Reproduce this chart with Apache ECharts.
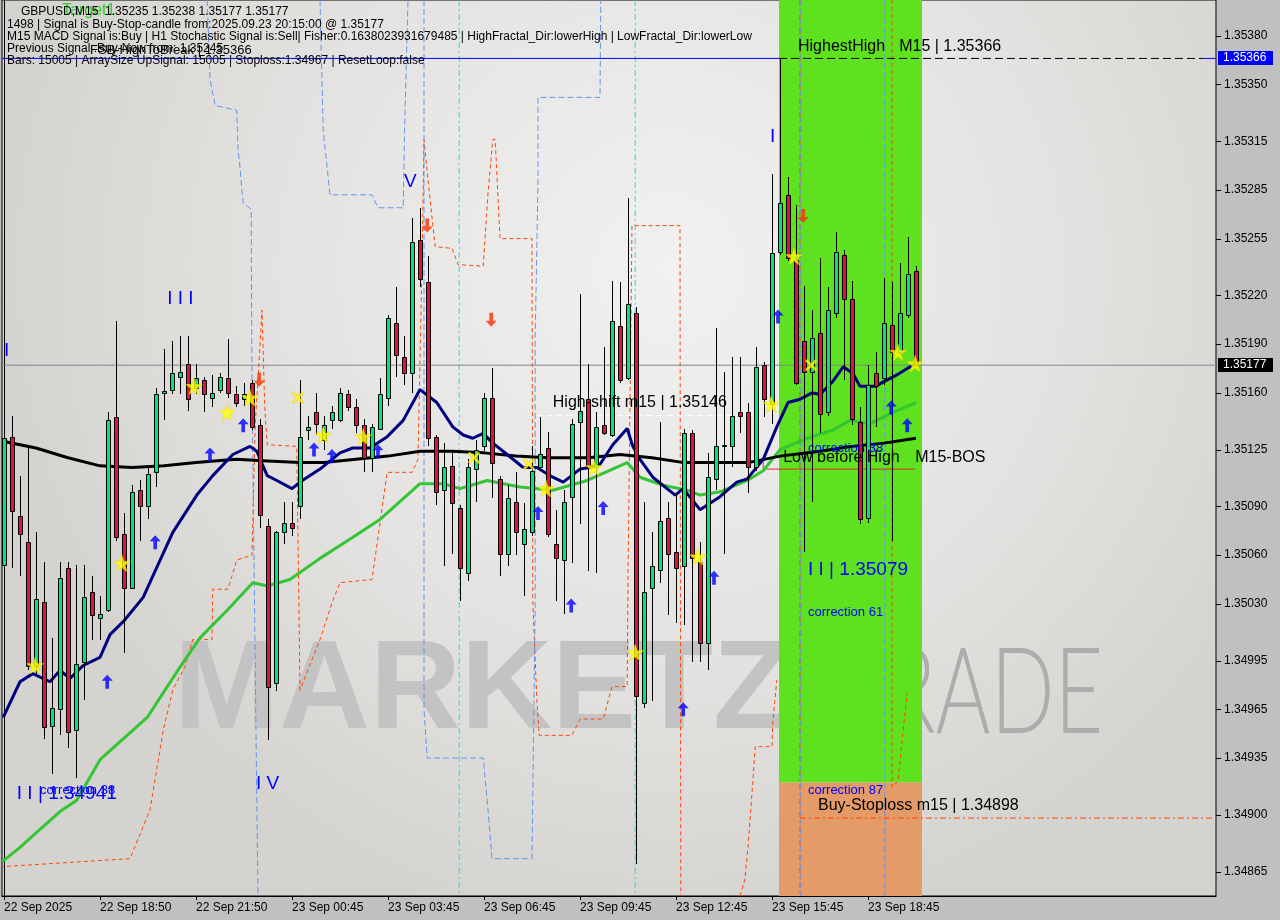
<!DOCTYPE html>
<html><head><meta charset="utf-8">
<script src="https://cdn.jsdelivr.net/npm/echarts@6/dist/echarts.min.js"></script>
<style>html,body{margin:0;padding:0;background:#c0c0c0;}#c{width:1280px;height:920px;}</style>
</head><body><div id="c"></div>
<script>
// ---------- DATA ----------
const timeLabels = ['22 Sep 2025','22 Sep 18:50','22 Sep 21:50','23 Sep 00:45','23 Sep 03:45','23 Sep 06:45','23 Sep 09:45','23 Sep 12:45','23 Sep 15:45','23 Sep 18:45'];
const timeTickIdx = [0,12,24,36,48,60,72,84,96,108];
const priceTicks = [1.35380,1.35350,1.35315,1.35285,1.35255,1.35220,1.35190,1.35160,1.35125,1.35090,1.35060,1.35030,1.34995,1.34965,1.34935,1.34900,1.34865];

const opens = [1.35054,1.35133,1.35084,1.35068,1.34992,1.35031,1.34955,1.34965,1.35052,1.34952,
1.34994,1.35037,1.35021,1.35026,1.35145,1.35073,1.35040,1.35100,1.35090,1.35111,
1.35160,1.35162,1.35170,1.35178,1.35163,1.35168,1.35157,1.35162,1.35169,1.35159,
1.35156,1.35166,1.35140,1.35078,1.34981,1.35074,1.35080,1.35090,1.35137,1.35148,
1.35131,1.35143,1.35143,1.35159,1.35151,1.35140,1.35120,1.35138,1.35157,1.35203,
1.35182,1.35172,1.35254,1.35228,1.35133,1.35100,1.35115,1.35089,1.35049,1.35113,
1.35127,1.35157,1.35107,1.35061,1.35093,1.35067,1.35074,1.35114,1.35126,1.35067,
1.35057,1.35096,1.35142,1.35156,1.35114,1.35140,1.35134,1.35201,1.35169,1.35209,
1.34969,1.35040,1.35051,1.35083,1.35062,1.35053,1.35135,1.35056,1.35006,1.35107,
1.35127,1.35127,1.35148,1.35148,1.35114,1.35177,1.35153,1.35247,1.35282,1.35242,
1.35192,1.35173,1.35197,1.35148,1.35209,1.35245,1.35218,1.35142,1.35083,1.35172,
1.35169,1.35202,1.35185,1.35208,1.35235];
const closes = [1.35132,1.35087,1.35073,1.34992,1.35033,1.34954,1.34966,1.35046,1.34951,1.34993,
1.35034,1.35023,1.35024,1.35143,1.35071,1.35040,1.35099,1.35090,1.35110,1.35159,
1.35161,1.35172,1.35173,1.35156,1.35169,1.35159,1.35160,1.35170,1.35160,1.35154,
1.35159,1.35139,1.35085,1.34979,1.35074,1.35080,1.35077,1.35133,1.35139,1.35141,
1.35140,1.35148,1.35160,1.35151,1.35140,1.35120,1.35139,1.35159,1.35206,1.35183,
1.35172,1.35253,1.35230,1.35132,1.35099,1.35114,1.35092,1.35052,1.35114,1.35125,
1.35157,1.35117,1.35061,1.35095,1.35074,1.35076,1.35112,1.35122,1.35073,1.35058,
1.35093,1.35141,1.35149,1.35114,1.35139,1.35135,1.35204,1.35168,1.35215,1.34973,
1.35037,1.35053,1.35081,1.35061,1.35052,1.35135,1.35058,1.35006,1.35108,1.35127,
1.35128,1.35146,1.35146,1.35114,1.35176,1.35156,1.35246,1.35277,1.35243,1.35166,
1.35173,1.35194,1.35147,1.35211,1.35247,1.35218,1.35144,1.35082,1.35165,1.35164,
1.35203,1.35185,1.35209,1.35233,1.35177];
const lows = [1.35051,1.35052,1.35047,1.34989,1.34987,1.34947,1.34925,1.34949,1.34941,1.34923,
1.34971,1.35008,1.35008,1.35025,1.35069,1.35000,1.35039,1.35069,1.35082,1.35102,
1.35143,1.35159,1.35159,1.35149,1.35159,1.35148,1.35151,1.35160,1.35157,1.35151,
1.35152,1.35137,1.35077,1.34946,1.34976,1.35067,1.35072,1.35082,1.35131,1.35134,
1.35125,1.35138,1.35142,1.35149,1.35135,1.35111,1.35111,1.35137,1.35152,1.35170,
1.35165,1.35160,1.35225,1.35127,1.35091,1.35053,1.35061,1.35032,1.35044,1.35093,
1.35124,1.35095,1.35047,1.35053,1.35060,1.35035,1.35072,1.35113,1.35071,1.35032,
1.35024,1.35055,1.35079,1.35050,1.35049,1.35134,1.35133,1.35166,1.35168,1.34870,
1.34966,1.34970,1.35043,1.35023,1.35018,1.35017,1.34994,1.34994,1.34989,1.35100,
1.35061,1.35114,1.35135,1.35098,1.35112,1.35145,1.35141,1.35245,1.35241,1.35165,
1.35062,1.35093,1.35135,1.35146,1.35206,1.35168,1.35140,1.35079,1.35080,1.35139,
1.35165,1.35069,1.35183,1.35206,1.35177];
const highs = [1.35146,1.35146,1.35109,1.35126,1.35074,1.35056,1.35009,1.35056,1.35056,1.35054,
1.35054,1.35047,1.35035,1.35148,1.35204,1.35086,1.35103,1.35106,1.35114,1.35163,
1.35187,1.35192,1.35195,1.35195,1.35178,1.35170,1.35171,1.35172,1.35193,1.35164,
1.35166,1.35168,1.35144,1.35082,1.35075,1.35093,1.35093,1.35168,1.35146,1.35160,
1.35146,1.35152,1.35163,1.35162,1.35156,1.35144,1.35141,1.35169,1.35208,1.35225,
1.35195,1.35268,1.35274,1.35244,1.35134,1.35129,1.35123,1.35091,1.35119,1.35131,
1.35160,1.35175,1.35109,1.35103,1.35111,1.35092,1.35127,1.35145,1.35136,1.35088,
1.35100,1.35144,1.35221,1.35178,1.35148,1.35188,1.35229,1.35228,1.35280,1.35213,
1.35093,1.35074,1.35142,1.35093,1.35098,1.35138,1.35137,1.35068,1.35123,1.35200,
1.35173,1.35182,1.35182,1.35154,1.35188,1.35179,1.35295,1.35366,1.35293,1.35276,
1.35226,1.35211,1.35243,1.35225,1.35259,1.35248,1.35229,1.35151,1.35177,1.35185,
1.35231,1.35228,1.35240,1.35256,1.35238];

// moving averages [barIndex, price]
const maSlowBlack = [[0,1.35130],[4,1.35126],[8,1.35120],[12,1.35115],[16,1.35114],[20,1.35115],[24,1.35117],[29,1.35119],[33,1.35118],[37,1.35117],[40,1.35117],[44,1.35119],[48,1.35121],[52,1.35124],[56,1.35124],[60,1.35123],[64,1.35121],[68,1.35120],[73,1.35120],[77,1.35122],[81,1.35120],[85,1.35117],[89,1.35117],[93,1.35117],[97,1.35121],[102,1.35124],[106,1.35127],[110,1.35129],[114,1.35132]];
const maFastNavy = [[-0.1,1.34960],[2,1.34982],[3.6,1.34987],[5.75,1.34982],[7,1.34989],[8.25,1.34984],[9.9,1.34992],[12,1.34997],[13.25,1.35011],[14.9,1.35019],[17.4,1.35034],[18.6,1.35047],[21.1,1.35074],[24.1,1.35097],[26.1,1.35109],[28.6,1.35122],[30.75,1.35127],[31.6,1.35124],[32.9,1.35109],[34.1,1.35106],[36,1.35101],[37,1.35105],[39.5,1.35113],[42,1.35123],[43.6,1.35126],[45.75,1.35126],[47.9,1.35133],[49.9,1.35143],[52,1.35162],[54.1,1.35154],[56.1,1.35139],[57.4,1.35134],[58.6,1.35132],[59.9,1.35135],[61.1,1.35129],[62.9,1.35122],[64.9,1.35114],[66.6,1.35114],[68.6,1.35108],[69.9,1.35105],[72,1.35113],[73.25,1.35114],[74.5,1.35116],[76.1,1.35128],[77.9,1.35138],[78.6,1.35127],[79.5,1.35119],[81.1,1.35108],[83.9,1.35097],[84.9,1.35101],[87,1.35088],[89.5,1.35096],[91.6,1.35105],[92.9,1.35107],[94.9,1.35119],[96.6,1.35139],[98,1.35154],[99.5,1.35156],[101,1.35160],[102,1.35159],[103.6,1.35167],[104.9,1.35176],[106.1,1.35172],[107,1.35164],[108.9,1.35164],[110.4,1.35168],[111.6,1.35171],[112.9,1.35175],[114,1.35178]];
const maMidGreen = [[-0.25,1.34871],[2,1.34880],[4.5,1.34891],[7,1.34902],[9.1,1.34909],[12,1.34934],[17.9,1.34960],[22,1.34991],[24.5,1.35009],[27.9,1.35026],[31.1,1.35043],[32.9,1.35041],[35.75,1.35045],[39.5,1.35058],[43.6,1.35071],[47,1.35082],[52,1.35104],[54.9,1.35104],[57,1.35101],[60.4,1.35106],[64.5,1.35102],[68.6,1.35100],[72.9,1.35106],[77.9,1.35117],[79.5,1.35108],[82.4,1.35103],[85.4,1.35100],[87,1.35097],[89.5,1.35099],[92.9,1.35106],[94.9,1.35112],[97,1.35125],[100.4,1.35132],[103.6,1.35137],[105.75,1.35143],[108.25,1.35141],[111.1,1.35148],[114,1.35154]];

// trailing stop / channel step lines [barIndex, price]
const stopLineA = [[-0.5,1.34868],[15.75,1.34873],[18.25,1.34903],[19.9,1.34952],[21.1,1.34977],[22.6,1.34991],[23.6,1.35008],[26,1.35008],[26.1,1.35039],[28,1.35039],[29.1,1.35057],[31,1.35060],[31.4,1.35141],[31.75,1.35168],[32.25,1.35211],[32.6,1.35151],[32.9,1.35128],[36.6,1.35127],[37,1.34977],[39.5,1.35008],[41.1,1.35032],[42,1.35043],[46,1.35045],[47.9,1.35111],[51,1.35111],[51.75,1.35119],[52.25,1.35240],[52.5,1.35316],[53,1.35291],[53.9,1.35250],[56,1.35249],[56.75,1.35239],[59.9,1.35238],[60.1,1.35253],[60.5,1.35283],[61.1,1.35316],[61.4,1.35316],[62,1.35255],[66,1.35255],[66.1,1.35032],[66.6,1.34971],[66.9,1.34949],[71,1.34949],[72,1.34959],[74.9,1.34959],[76,1.34979],[77.9,1.34979],[78,1.35045],[78.5,1.35263],[84.5,1.35263],[84.6,1.34850]];
const stopLineB = [[92,1.34850],[92.6,1.34860],[93,1.34880],[93.6,1.34920],[93.9,1.34942],[96,1.34942],[96.1,1.34957],[96.6,1.34983]];
const stopLineC = [[111,1.35402],[111,1.34917],[111.75,1.34921],[112.4,1.34952],[112.9,1.34975]];
const stopLineD = [[99.5,1.35402],[99.5,1.34850]];
const bandLine1 = [[25.4,1.35402],[25.75,1.35353],[26.4,1.35337],[29.1,1.35334],[29.25,1.35310],[29.5,1.35299],[29.75,1.35284],[29.9,1.35277],[30.9,1.35273],[31,1.35162],[31.6,1.34909],[31.75,1.34850]];
const bandLine2 = [[39.5,1.35402],[39.9,1.35322],[40.75,1.35282],[46,1.35282],[46.75,1.35274],[49.9,1.35274],[50.1,1.35328],[50.5,1.35402]];
const bandLine3 = [[52.5,1.35402],[52.5,1.34965],[52.9,1.34935],[59.9,1.34935],[60.4,1.34909],[61,1.34873],[66,1.34873],[66.4,1.35032],[66.4,1.35194],[66.75,1.35291],[66.75,1.35342],[74.5,1.35342],[74.6,1.35402]];
const bandLine4 = [[99.6,1.35402],[99.6,1.34850]];
const bandLine5 = [[110.1,1.35402],[110.1,1.34850]];
const cycleMarks = [56.9, 78.9];

// zone
const zoneFrom = 96.875, zoneTo = 114.75;
const zoneTop = 1.35402, zoneSplit = 1.34920, zoneBottom = 1.34850;

// levels
const highestHigh = 1.35366, lastPrice = 1.35177, buyStop = 1.34898, highShift = 1.35146, bosLevel = 1.35113;

// signals [barIndex, price]
const stars = [[3.9,1.34992],[14.75,1.35055],[23.75,1.35164],[27.9,1.35148],[30.75,1.35157],[39.9,1.35134],[44.9,1.35133],[67.75,1.35101],[73.75,1.35114],[78.9,1.35000],[86.75,1.35059],[95.9,1.35153],[98.75,1.35244],[111.75,1.35185],[113.9,1.35178]];
const crosses = [[36.75,1.35157],[58.75,1.35120],[65.6,1.35116],[100.9,1.35177]];
const upArrows = [[12.9,1.34982],[18.9,1.35068],[25.75,1.35122],[29.9,1.35140],[38.75,1.35125],[41,1.35121],[46.75,1.35124],[66.75,1.35086],[70.9,1.35029],[74.9,1.35089],[84.9,1.34965],[88.75,1.35046],[96.75,1.35207],[110.9,1.35151],[112.9,1.35140]];
const downArrows = [[31.9,1.35168],[52.9,1.35263],[60.9,1.35205],[99.9,1.35269]];

// annotations
const annText = ['HighestHigh','M15 | 1.35366','High-shift m15 | 1.35146','Low before High','M15-BOS','Buy-Stoploss m15 | 1.34898',
  'I I | 1.35079','correction 38','correction 61','correction 87','I I I','I','V','I','I V','I I | 1.34941','correction 38'];
const annPos = [[99.25,1.35373],[111.9,1.35373],[68.6,1.35154],[97.4,1.35120],[113.9,1.35120],[101.75,1.34906],
  [100.5,1.35051],[100.5,1.35126],[100.5,1.35025],[100.5,1.34915],[20.4,1.35218],[0,1.35186],[50,1.35290],[95.75,1.35318],[31.5,1.34919],[1.6,1.34913],[4.5,1.34915]];
const annKind = ['lbl','lbl','lbl','lbl','lbl','lbl','wave','corr','corr','corr','wave','wave','wave','wave','wave','wave','corr'];

const header = [
  'GBPUSD,M15  1.35235 1.35238 1.35177 1.35177',
  '1498 | Signal is Buy-Stop-candle from:2025.09.23 20:15:00 @ 1.35177',
  'M15 MACD Signal is:Buy | H1 Stochastic Signal is:Sell| Fisher:0.1638023931679485 | HighFractal_Dir:lowerHigh | LowFractal_Dir:lowerLow',
  'Previous Signal :Buy-Now from: 1.35245',
  'Bars: 15005 | ArraySize UpSignal: 15005 | Stoploss:1.34967 | ResetLoop:false'
];

// ---------- CHART ----------
const X_MIN = -0.25, X_MAX = 151.5, Y_MAX = 1.35402, Y_MIN = 1.34850;
const GREEN = '#00e676', RED = '#dc143c';
const FONT = '"Liberation Sans", Arial, sans-serif';
const chart = echarts.init(document.getElementById('c'), null, {renderer:'canvas', width:1280, height:920});

const candleData = opens.map((o, i) => [i, o, closes[i], lows[i], highs[i]]);
const kindStyle = {
  lbl: {fill:'#000', font:'16px ' + FONT},
  wave: {fill:'#0000ff', font:'19px ' + FONT},
  corr: {fill:'#0000ff', font:'13px ' + FONT}
};

function lineSeries(data, color, width, type, z) {
  return {type:'line', data:data, showSymbol:false, symbol:'none', silent:true, animation:false, z:z || 3,
    lineStyle:{color:color, width:width, type:type || 'solid'}, clip:true};
}

const starPath = 'path://M50,0 L61,35 L98,35 L68,57 L79,91 L50,70 L21,91 L32,57 L2,35 L39,35 Z';
const crossPath = 'path://M0,3 L3,0 L10,7 L17,0 L20,3 L13,10 L20,17 L17,20 L10,13 L3,20 L0,17 L7,10 Z';
const arrowPath = 'path://M6,0 L12,6 L8,6 L8,14 L4,14 L4,6 L0,6 Z';

const series = [
  // zone
  {type:'custom', z:1, silent:true, animation:false,
   data:[[zoneFrom, zoneTo, zoneTop, zoneSplit, 0],[zoneFrom, zoneTo, zoneSplit, zoneBottom, 1]],
   renderItem:function(params, api){
     const a = api.coord([api.value(0), api.value(2)]);
     const b = api.coord([api.value(1), api.value(3)]);
     return {type:'rect', shape:{x:a[0], y:a[1], width:b[0]-a[0], height:b[1]-a[1]},
       style:{fill: api.value(4) === 0 ? '#5ee11f' : '#e59b68'}};
   }},
  lineSeries(stopLineA, '#ff4500', 1, [4,3]),
  lineSeries(stopLineB, '#ff4500', 1, [4,3]),
  lineSeries(stopLineC, '#ff4500', 1, [4,3]),
  lineSeries(stopLineD, '#ff4500', 1, [6,3,2,3]),
  lineSeries(bandLine1, '#6495ed', 1, [6,3]),
  lineSeries(bandLine2, '#6495ed', 1, [6,3]),
  lineSeries(bandLine3, '#6495ed', 1, [6,3]),
  lineSeries(bandLine4, '#6495ed', 1, [6,3]),
  lineSeries(bandLine5, '#6495ed', 1, [6,3]),
  lineSeries([[cycleMarks[0], Y_MAX],[cycleMarks[0], Y_MIN]], '#22dde8', 1, [6,3,2,3]),
  lineSeries([[cycleMarks[1], Y_MAX],[cycleMarks[1], Y_MIN]], '#22dde8', 1, [6,3,2,3]),
  lineSeries([[X_MIN, highestHigh],[zoneFrom, highestHigh]], '#0000ff', 1, 'solid'),
  lineSeries([[149.9, highestHigh],[X_MAX, highestHigh]], '#0000ff', 1, 'solid'),
  lineSeries([[zoneFrom, highestHigh],[149.9, highestHigh]], '#000', 1, [8,4]),
  lineSeries([[X_MIN, lastPrice],[X_MAX, lastPrice]], '#7f8890', 1, 'solid'),
  lineSeries([[99.5, buyStop],[X_MAX, buyStop]], '#ff4500', 1, [6,3,2,3]),
  lineSeries([[66.6, highShift],[94, highShift]], '#ffffff', 1, [6,4]),
  lineSeries([[94.9, 1.35119],[94.9, bosLevel],[113.9, bosLevel]], '#d83030', 1, 'solid'),
  // moving averages
  lineSeries(maMidGreen, '#33c533', 3, 'solid', 4),
  lineSeries(maSlowBlack, '#000000', 3, 'solid', 4),
  lineSeries(maFastNavy, '#000080', 3, 'solid', 4),
  // candles
  {type:'custom', z:10, animation:false, silent:true, data:candleData,
   renderItem:function(params, api){
     const i = api.value(0), o = api.value(1), c = api.value(2), l = api.value(3), h = api.value(4);
     const pO = api.coord([i, o]), pC = api.coord([i, c]), pL = api.coord([i, l]), pH = api.coord([i, h]);
     const cx = Math.round(pO[0]);
     const top = Math.round(Math.min(pO[1], pC[1])), bot = Math.round(Math.max(pO[1], pC[1]));
     return {type:'group', children:[
       {type:'line', shape:{x1:cx+0.5, y1:Math.round(pH[1]), x2:cx+0.5, y2:Math.round(pL[1])}, style:{stroke:'#000', lineWidth:1}},
       {type:'rect', shape:{x:cx-1.5, y:top+0.5, width:4, height:Math.max(bot-top,1)},
        style:{fill: c >= o ? GREEN : RED, stroke:'#000', lineWidth:1}}
     ]};
   }},
  // signals
  {type:'scatter', z:12, silent:true, animation:false, data:stars, symbol:starPath, symbolSize:17,
   itemStyle:{color:'#ffff00', borderColor:'#f0d000', borderWidth:0.5}},
  {type:'scatter', z:12, silent:true, animation:false, data:crosses, symbol:crossPath, symbolSize:12,
   itemStyle:{color:'#ffff00', borderColor:'#e8a000', borderWidth:0.5}},
  {type:'scatter', z:12, silent:true, animation:false, data:upArrows, symbol:arrowPath, symbolSize:[11,14],
   itemStyle:{color:'#0000ff'}},
  {type:'scatter', z:12, silent:true, animation:false, data:downArrows, symbol:arrowPath, symbolSize:[11,14], symbolRotate:180,
   itemStyle:{color:'#ff3000'}},
  // annotations
  {type:'custom', z:14, silent:true, animation:false,
   data:annPos.map((p, k) => [p[0], p[1], k]),
   renderItem:function(params, api){
     const p = api.coord([api.value(0), api.value(1)]);
     const k = api.value(2);
     const st = kindStyle[annKind[k]];
     return {type:'text', x:p[0], y:p[1], style:{text:annText[k], fill:st.fill, font:st.font, align:'left', verticalAlign:'middle'}};
   }},
  // y-axis ticks (outside, right)
  {type:'custom', z:20, silent:true, animation:false, clip:false,
   data:priceTicks.map(p => [X_MAX, p]),
   renderItem:function(params, api){
     const p = api.coord([api.value(0), api.value(1)]);
     const y = Math.round(p[1]) + 0.5;
     return {type:'line', shape:{x1:p[0], y1:y, x2:p[0]+5, y2:y}, style:{stroke:'#000', lineWidth:1}};
   }},
  // price tags on axis
  {type:'custom', z:21, silent:true, animation:false, clip:false,
   data:[[X_MAX, highestHigh, 0],[X_MAX, lastPrice, 1]],
   renderItem:function(params, api){
     const p = api.coord([api.value(0), api.value(1)]);
     const k = api.value(2);
     const y = Math.round(p[1]);
     return {type:'group', children:[
       {type:'rect', shape:{x:p[0]+2, y:y-7, width:55, height:14}, style:{fill: k === 0 ? '#0000ff' : '#000'}},
       {type:'text', x:p[0]+7, y:y, style:{text:api.value(1).toFixed(5), fill:'#fff', font:'12px ' + FONT, verticalAlign:'middle', align:'left'}}
     ]};
   }}
];

const graphics = [
  {type:'text', z:1, x:174, y:630, scaleX:1.0, style:{text:'MARKETZ', font:'bold 126px ' + FONT, fill:'#c3c3c3'}},
  {type:'text', z:1, x:836, y:634, scaleX:0.7, style:{text:'TRADE', font:'300 120px Lato, sans-serif', fill:'#adadad'}},
  {type:'text', z:30, x:62, y:3, style:{text:'Target1', font:'16px ' + FONT, fill:'#33cc33'}}
];
header.forEach((t, k) => {
  graphics.push({type:'text', z:31, x: k === 0 ? 21 : 7, y: 6 + k * 12.2, style:{text:t, font:'12px ' + FONT, fill:'#000'}});
});
graphics.push({type:'text', z:31, x:90, y:44, style:{text:'FSB-HighToBreak | 1.35366', font:'13px ' + FONT, fill:'#000'}});

chart.setOption({
  animation:false,
  backgroundColor:'#c0c0c0',
  grid:{left:2, right:64, top:0, bottom:24, show:true, borderColor:'#000', borderWidth:1,
    backgroundColor:new echarts.graphic.RadialGradient(0.55, 0.3, 0.75, [
      {offset:0, color:'#f1f1f1'}, {offset:0.6, color:'#e3e2e0'}, {offset:1, color:'#d5d3cf'}])},
  xAxis:{type:'value', min:X_MIN, max:X_MAX, position:'bottom',
    axisLine:{show:true, lineStyle:{color:'#000'}},
    axisTick:{show:true, length:4, customValues:timeTickIdx, lineStyle:{color:'#000'}},
    axisLabel:{show:true, customValues:timeTickIdx, align:'left', margin:6, color:'#000', fontSize:12, fontFamily:FONT,
      formatter:function(v){ const k = timeTickIdx.indexOf(Math.round(v)); return k >= 0 ? timeLabels[k] : ''; }},
    splitLine:{show:false}},
  yAxis:{type:'value', position:'right', min:Y_MIN, max:Y_MAX,
    axisLine:{show:true, lineStyle:{color:'#000'}},
    axisTick:{show:false},
    axisLabel:{show:true, customValues:priceTicks, margin:8, color:'#000', fontSize:12, fontFamily:FONT,
      formatter:function(v){ return v.toFixed(5); }},
    splitLine:{show:false}},
  graphic:graphics,
  series:series
});
</script></body></html>
